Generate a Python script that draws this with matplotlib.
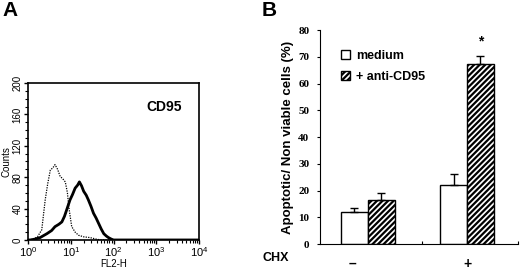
"""
Two-panel figure: CD95 flow cytometry histogram (A) and apoptosis bar chart (B).
"""
import matplotlib
matplotlib.use('Agg')
import matplotlib.pyplot as plt
from matplotlib.patches import Patch
from matplotlib.ticker import MultipleLocator, LogLocator, NullFormatter, FixedLocator

plt.rcParams['font.family'] = ['Liberation Sans', 'DejaVu Sans']
plt.rcParams['hatch.linewidth'] = 1.6

# Panel A: histogram traces (log10 of FL2-H, counts)
iso_log = [0.0, 0.12, 0.22, 0.32, 0.40, 0.46, 0.52, 0.58, 0.63, 0.69, 0.75,
           0.81, 0.87, 0.92, 0.95, 0.99, 1.02, 1.10, 1.18, 1.30, 1.45, 1.60, 1.70, 4.0]
iso_counts = [0, 1, 4, 13, 51, 72, 89, 92, 96, 90, 81, 78, 74, 60, 43, 28, 17, 10, 6, 4, 3, 1, 0, 0]

cd95_log = [0.0, 0.05, 0.15, 0.28, 0.44, 0.55, 0.63, 0.72, 0.79, 0.85, 0.90, 0.98,
            1.04, 1.10, 1.16, 1.20, 1.25, 1.30, 1.36, 1.41, 1.47, 1.53, 1.59, 1.65,
            1.71, 1.77, 1.83, 1.88, 1.95, 2.0, 4.0]
cd95_counts = [0, 0, 1, 3, 8, 12, 17, 20, 23, 30, 38, 51, 58, 66, 70, 74, 69, 62, 57,
               51, 43, 34, 28, 21, 14, 8, 5, 3, 1, 0, 0]

# Panel B: bar values
groups = ['–', '+']
medium = [12.0, 22.2]
medium_err = [1.6, 4.0]
anti_cd95 = [16.6, 67.2]
anti_cd95_err = [2.3, 3.0]

fig = plt.figure(figsize=(5.2, 2.73), dpi=100)

# ---------------- Panel A ----------------
axA = fig.add_axes([0.054, 0.121, 0.329, 0.575])
axA.plot([10 ** v for v in iso_log], iso_counts, color='black', lw=0.9, ls=(0, (1, 1)))
axA.plot([10 ** v for v in cd95_log], cd95_counts, color='black', lw=2.0)
axA.set_xscale('log')
axA.set_xlim(1, 1e4)
axA.set_ylim(0, 200)
axA.xaxis.set_major_locator(LogLocator(base=10, numticks=10))
axA.xaxis.set_minor_locator(LogLocator(base=10, subs=range(2, 10), numticks=10))
axA.xaxis.set_minor_formatter(NullFormatter())
axA.yaxis.set_major_locator(MultipleLocator(40))
axA.yaxis.set_minor_locator(MultipleLocator(10))
axA.tick_params(axis='both', which='major', direction='out', length=3, width=1.0, labelsize=8)
axA.tick_params(axis='both', which='minor', direction='out', length=2, width=0.8)
axA.tick_params(axis='y', labelsize=7, pad=1)
axA.tick_params(axis='x', pad=1)
for lbl in axA.get_yticklabels():
    lbl.set_rotation(90)
    lbl.set_va('center')
for sp in axA.spines.values():
    sp.set_linewidth(1.2)
axA.set_ylabel('Counts', fontsize=7, labelpad=1)
axA.set_xlabel('FL2-H', fontsize=7, labelpad=0)
axA.text(0.9, 0.85, 'CD95', transform=axA.transAxes, ha='right', va='center',
         fontsize=10, fontweight='bold')

# ---------------- Panel B ----------------
axB = fig.add_axes([0.615, 0.106, 0.381, 0.784])
xpos = list(range(len(groups)))
w = 0.27
axB.bar([x - w / 2 for x in xpos], medium, width=w, color='white', edgecolor='black', lw=1.0,
        yerr=[[0] * len(medium), medium_err], error_kw=dict(ecolor='black', elinewidth=1.0, capsize=3, capthick=1.0))
axB.bar([x + w / 2 for x in xpos], anti_cd95, width=w, color='white', edgecolor='black', lw=1.0,
        hatch='//////',
        yerr=[[0] * len(anti_cd95), anti_cd95_err], error_kw=dict(ecolor='black', elinewidth=1.0, capsize=3, capthick=1.0))
axB.set_xlim(-0.485, 1.515)
axB.set_ylim(0, 80)
axB.yaxis.set_major_locator(MultipleLocator(10))
axB.xaxis.set_major_locator(FixedLocator([0.545, 1.515]))
axB.set_xticklabels([])
axB.tick_params(axis='x', direction='in', length=2, width=0.8)
axB.tick_params(axis='y', direction='out', length=2.5, width=0.8, pad=5)
for lbl in axB.get_yticklabels():
    lbl.set_fontfamily(['Liberation Serif', 'DejaVu Serif'])
    lbl.set_fontweight('bold')
    lbl.set_fontsize(8)
for side in ('top', 'right'):
    axB.spines[side].set_visible(False)
axB.spines['left'].set_linewidth(0.8)
axB.spines['bottom'].set_linewidth(0.8)
axB.set_ylabel('Apoptotic/ Non viable cells (%)', fontsize=9.5, fontweight='bold', labelpad=3)

handles = [Patch(facecolor='white', edgecolor='black', lw=1.0, label='medium'),
           Patch(facecolor='white', edgecolor='black', lw=1.0, hatch='//////', label='+ anti-CD95')]
axB.legend(handles=handles, loc='upper left', bbox_to_anchor=(0.08, 0.93), frameon=False,
           prop=dict(weight='bold', size=9), handlelength=0.75, handleheight=0.75,
           handletextpad=0.5, labelspacing=0.7, borderaxespad=0)

# asterisk above the tall bar
axB.text(xpos[1] + w / 2, anti_cd95[1] + anti_cd95_err[1] + 3, '*', ha='center', va='bottom',
         fontsize=10, fontweight='bold')

# CHX row
fig.text(0.505, 0.055, 'CHX', fontsize=9, fontweight='bold', ha='left', va='center')
for x, g in zip([-0.16, 1.01], groups):
    axB.annotate(g, xy=(x, 0), xycoords=('data', 'axes fraction'), xytext=(0, -14),
                 textcoords='offset points', ha='center', va='center', fontsize=10, fontweight='bold')

# panel letters
fig.text(0.004, 0.995, 'A', fontsize=15, fontweight='bold', ha='left', va='top')
fig.text(0.503, 0.995, 'B', fontsize=15, fontweight='bold', ha='left', va='top')

fig.savefig('out.png', dpi=100)
